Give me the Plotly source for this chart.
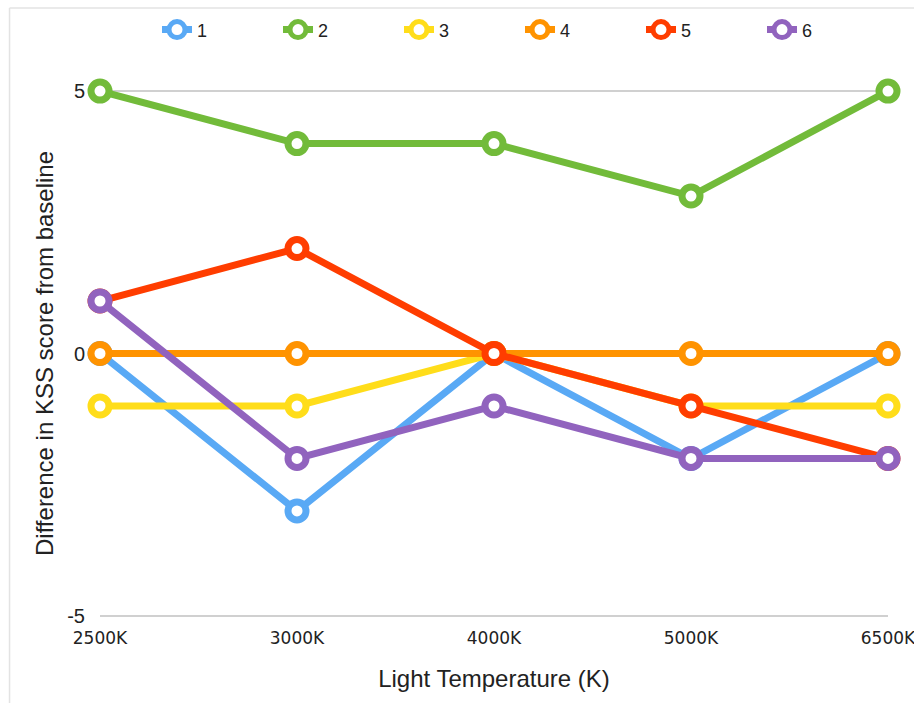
import plotly.graph_objects as go

categories = ["2500K", "3000K", "4000K", "5000K", "6500K"]
series_names = ["1", "2", "3", "4", "5", "6"]
s1 = [0, -3, 0, -2, 0]
s2 = [5, 4, 4, 3, 5]
s3 = [-1, -1, 0, -1, -1]
s4 = [0, 0, 0, 0, 0]
s5 = [1, 2, 0, -1, -2]
s6 = [1, -2, -1, -2, -2]
colors = ["#59A9F5", "#72BB3A", "#FFDD1A", "#FF9300", "#FF3D00", "#9163BE"]

fig = go.Figure()
for name, vals, c in zip(series_names, [s1, s2, s3, s4, s5, s6], colors):
    fig.add_trace(go.Scatter(
        x=categories, y=vals, name=name, mode="lines+markers",
        line=dict(color=c, width=7),
        marker=dict(size=18, color="white", line=dict(color=c, width=7)),
        cliponaxis=False,
    ))

fig.update_layout(
    width=914, height=703,
    margin=dict(l=100, r=26, t=90, b=86, autoexpand=False),
    paper_bgcolor="white", plot_bgcolor="white",
    font=dict(family="Liberation Sans, Arial, sans-serif", color="#222"),
    showlegend=True,
    legend=dict(orientation="h", x=0.533, xanchor="center", y=1.114, yanchor="middle",
                entrywidth=76, bgcolor="rgba(0,0,0,0)", font=dict(size=18, color="#222")),
    xaxis=dict(
        type="category", range=[0, 4], showgrid=False, zeroline=False, showline=False,
        ticks="outside", ticklen=6, tickcolor="rgba(0,0,0,0)",
        tickfont=dict(family="DejaVu Sans, Verdana, sans-serif", size=17, color="#222"),
        title=dict(text="Light Temperature (K)", font=dict(size=24, color="#222"), standoff=22),
    ),
    yaxis=dict(
        range=[-5.02, 5.02], tickvals=[-5, 0, 5], ticktext=["-5", "0", "5"],
        showgrid=True, gridcolor="#d0d0d0", gridwidth=1.5, zeroline=False, showline=False,
        tickfont=dict(size=20, color="#222"), ticklabelstandoff=14,
        title=dict(text="Difference in KSS score from baseline", font=dict(size=24, color="#222"), standoff=6),
    ),
    shapes=[
        dict(type="line", xref="paper", yref="paper", x0=-0.1148, x1=1.04, y0=1.1556, y1=1.1556,
             line=dict(color="#e3e3e3", width=1.5)),
        dict(type="line", xref="paper", yref="paper", x0=-0.1148, x1=-0.1148, y0=-0.2, y1=1.1556,
             line=dict(color="#e3e3e3", width=1.5)),
    ],
)

fig.write_html("out.html")
